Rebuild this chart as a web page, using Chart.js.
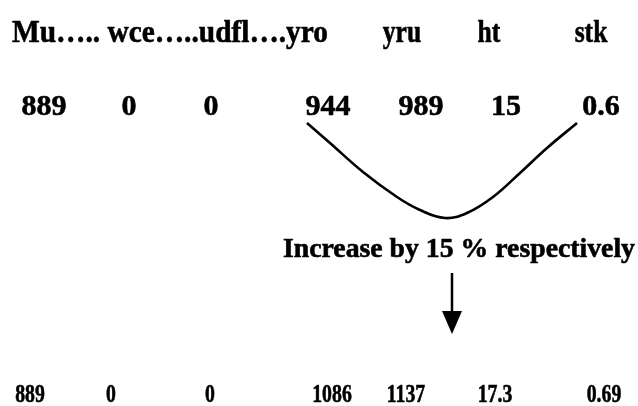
<!DOCTYPE html>
<html>
<head>
<meta charset="utf-8">
<script src="https://cdn.jsdelivr.net/npm/chart.js@4/dist/chart.umd.min.js"></script>
<style>
  html, body { margin: 0; padding: 0; background: #ffffff; }
  #wrap { width: 638px; height: 406px; }
</style>
</head>
<body>
<div id="wrap"><canvas id="c" width="638" height="406"></canvas></div>
<script>
// ---- data ----
const variables = ['Mu', 'wce', 'udfl', 'yro', 'yru', 'ht', 'stk'];
const originalValues = ['889', '0', '0', '944', '989', '15', '0.6'];
const increasedValues = ['889', '0', '0', '1086', '1137', '17.3', '0.69'];
const increasePercent = 15;
// hand-drawn U curve joining "944" to "0.6" (x, y in picture units)
const curveX = [307, 330, 363, 397, 420, 445, 467, 493, 520, 547, 577];
const curveY = [123, 143, 172, 197, 210, 218, 213, 197, 173, 148, 123];

// ---- layout (picture units, 0..638 x 0..406) ----
const layout = {
  headerLeftX: 12, headerLeftWidth: 316, headerY: 42,
  headerRightX: [402, 489, 591],
  row1X: [44, 129, 211, 328, 421, 506, 601], row1Y: 115,
  row2X: [30, 111, 210, 332, 406, 495, 604], row2Y: 402,
  noteX: 459, noteY: 257, noteWidth: 352,
  arrowX: 452, arrowTop: 273, arrowNeck: 311, arrowTip: 334, arrowHalf: 10
};

const FONT = '"Liberation Serif", "Times New Roman", serif';

function boldText(ctx, s, x, y, w) {
  if (w !== undefined) {
    ctx.fillText(s, x, y, w);
    ctx.strokeText(s, x, y, w);
  } else {
    ctx.fillText(s, x, y);
    ctx.strokeText(s, x, y);
  }
}

const textPlugin = {
  id: 'textDiagram',
  afterDatasetsDraw(chart) {
    const ctx = chart.ctx;
    const sx = chart.scales.x, sy = chart.scales.y;
    const X = v => sx.getPixelForValue(v), Y = v => sy.getPixelForValue(v);
    ctx.save();
    ctx.fillStyle = '#000';
    ctx.strokeStyle = '#000';
    ctx.lineWidth = 0.6;
    ctx.lineJoin = 'round';
    ctx.textBaseline = 'alphabetic';

    // header: first four names run together with dot leaders
    ctx.font = 'bold 32px ' + FONT;
    ctx.textAlign = 'left';
    const headLeft = variables[0] + '\u2026.. ' + variables[1] + '\u2026..' + variables[2] + '\u2026.' + variables[3];
    boldText(ctx, headLeft, X(layout.headerLeftX), Y(layout.headerY), layout.headerLeftWidth);
    ctx.textAlign = 'center';
    for (let i = 4; i < variables.length; i++) {
      const w = ctx.measureText(variables[i]).width * 0.8;
      boldText(ctx, variables[i], X(layout.headerRightX[i - 4]), Y(layout.headerY), w);
    }

    // original values
    ctx.font = 'bold 30px ' + FONT;
    originalValues.forEach((v, i) => {
      boldText(ctx, v, X(layout.row1X[i]), Y(layout.row1Y));
    });

    // note
    ctx.font = 'bold 28px ' + FONT;
    boldText(ctx, 'Increase by ' + increasePercent + ' % respectively', X(layout.noteX), Y(layout.noteY), layout.noteWidth);

    // arrow
    ctx.lineWidth = 2.5;
    ctx.beginPath();
    ctx.moveTo(X(layout.arrowX), Y(layout.arrowTop));
    ctx.lineTo(X(layout.arrowX), Y(layout.arrowNeck));
    ctx.stroke();
    ctx.beginPath();
    ctx.moveTo(X(layout.arrowX - layout.arrowHalf), Y(layout.arrowNeck));
    ctx.lineTo(X(layout.arrowX + layout.arrowHalf), Y(layout.arrowNeck));
    ctx.lineTo(X(layout.arrowX), Y(layout.arrowTip));
    ctx.closePath();
    ctx.fill();

    // increased values (condensed)
    ctx.lineWidth = 0.6;
    ctx.font = 'bold 26px ' + FONT;
    increasedValues.forEach((v, i) => {
      const w = ctx.measureText(v).width * 0.76;
      boldText(ctx, v, X(layout.row2X[i]), Y(layout.row2Y), w);
    });
    ctx.restore();
  }
};

new Chart(document.getElementById('c'), {
  type: 'line',
  data: {
    datasets: [{
      data: curveX.map((x, i) => ({ x: x, y: curveY[i] })),
      borderColor: '#000',
      borderWidth: 2.6,
      pointRadius: 0,
      tension: 0.4,
      fill: false
    }]
  },
  options: {
    responsive: false,
    animation: false,
    devicePixelRatio: 1,
    layout: { padding: 0 },
    plugins: { legend: { display: false }, tooltip: { enabled: false }, title: { display: false } },
    scales: {
      x: { type: 'linear', min: 0, max: 638, display: false },
      y: { type: 'linear', min: 0, max: 406, reverse: true, display: false }
    }
  },
  plugins: [textPlugin]
});
</script>
</body>
</html>
